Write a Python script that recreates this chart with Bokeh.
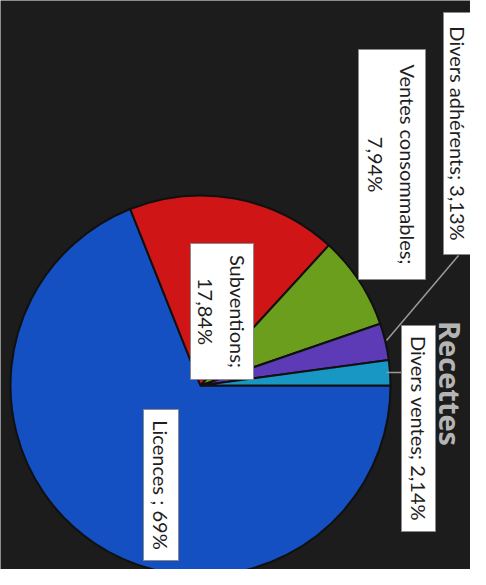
import numpy as np
from bokeh.plotting import figure
from bokeh.models import Range1d, ColumnDataSource
from bokeh.core.properties import value
from bokeh.embed import file_html
from bokeh.resources import INLINE

# ---- data ----
categories = ["Licences", "Subventions", "Ventes consommables", "Divers adhérents", "Divers ventes"]
values = [69.0, 17.84, 7.94, 3.13, 2.14]
labels = ["Licences ; 69%", "Subventions;\n17,84%", "Ventes consommables;\n7,94%",
          "Divers adhérents; 3,13%", "Divers ventes; 2,14%"]
colors = ["#1550c2", "#cf1515", "#6c9e1e", "#5e3bb6", "#1897c4"]
title_text = "Recettes"

W, H = 470, 569
def sx(x):  # picture x -> data x
    return x
def sy(y):  # picture y -> data y
    return H - y

p = figure(width=W, height=H, output_backend="svg", toolbar_location=None,
           x_range=Range1d(0, W), y_range=Range1d(0, H), min_border=0,
           background_fill_color="#1c1c1c", border_fill_color="#1c1c1c")
p.axis.visible = False
p.grid.visible = False
p.outline_line_color = None

cx, cy, r = sx(200), sy(385), 190
vals = np.array(values)
cum = np.cumsum(vals) / vals.sum() * 2 * np.pi
prev = np.concatenate([[0.0], cum[:-1]])
src = ColumnDataSource(dict(start=-cum, end=-prev, color=colors, cat=categories))
p.wedge(x=cx, y=cy, radius=r, start_angle="start", end_angle="end",
        fill_color="color", line_color="#101010", line_width=2, source=src)

# leader lines
p.line([sx(458), sx(386)], [sy(255), sy(340)], line_color="#9a9a9a", line_width=1.5)
p.line([sx(386), sx(401)], [sy(372), sy(372)], line_color="#9a9a9a", line_width=1.5)

# label boxes (picture extents)
boxes = {
    "Licences": (143, 178, 409, 560),
    "Subventions": (190, 253, 243, 379),
    "Ventes consommables": (358, 425, 49, 279),
    "Divers adhérents": (443, 478, 12, 254),
    "Divers ventes": (401, 435, 325, 531),
}
bx, by, bw, bh = [], [], [], []
for c in categories:
    x0, x1, y0, y1 = boxes[c]
    bx.append(sx((x0 + x1) / 2)); by.append(sy((y0 + y1) / 2))
    bw.append(x1 - x0); bh.append(y1 - y0)
p.rect(x=bx, y=by, width=bw, height=bh, fill_color="white", line_color="#8a8a8a", line_width=1)
tx = list(bx)
tx[3] = sx(457)
p.text(x=tx, y=by, text=labels, angle=-np.pi / 2, text_align="center", text_baseline="middle",
       text_font=value("Lato"), text_font_size="20px", text_color="#1e1e1e", text_line_height=1.3)

p.text(x=[sx(450)], y=[sy(383)], text=[title_text], angle=-np.pi / 2, text_align="center",
       text_baseline="middle", text_font=value("Open Sans"), text_font_size="29px",
       text_font_style="bold", text_color="#b4b4b4")

open("out.html", "w").write(file_html(p, INLINE))
